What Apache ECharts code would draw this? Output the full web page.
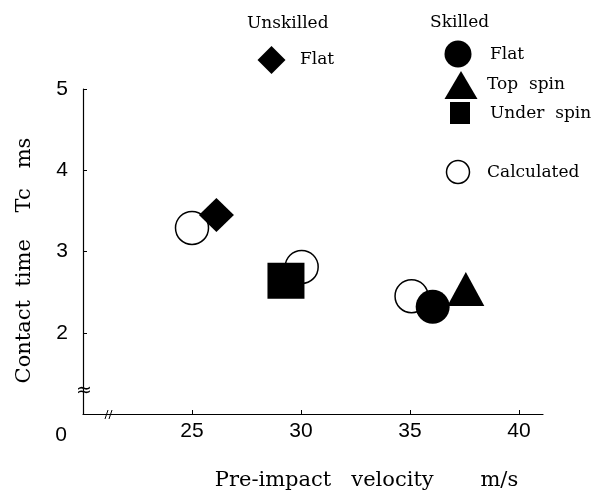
<!DOCTYPE html>
<html><head><meta charset="utf-8">
<script src="https://cdn.jsdelivr.net/npm/echarts@6/dist/echarts.min.js"></script>
<style>html,body{margin:0;padding:0;background:#fff}#c{width:599px;height:496px}</style>
</head><body><div id="c"></div>
<script>
// ---- data ----
const xTicks = [25, 30, 35, 40];
const yTicks = [2, 3, 4, 5];
const calculatedX = [25.0, 30.03, 35.07];
const calculatedY = [3.29, 2.81, 2.45];
const unskilledFlatX = [26.12];
const unskilledFlatY = [3.45];
const skilledFlatX = [36.04];
const skilledFlatY = [2.32];
const topSpinX = [37.56];
const topSpinY = [2.54];
const underSpinX = [29.31];
const underSpinY = [2.64];
const xTitle = 'Pre-impact   velocity       m/s';
const yTitle = 'Contact  time    Tc   ms';
const legendGroups = ['Unskilled', 'Skilled'];
const legendLabels = ['Flat', 'Flat', 'Top  spin', 'Under  spin', 'Calculated'];

const pairs = (xs, ys) => xs.map((x, i) => [x, ys[i]]);
const serif = 'DejaVu Serif';
const sans = 'Liberation Sans';

const chart = echarts.init(document.getElementById('c'), null, {renderer: 'canvas'});
const txt = (t, x, y, size, fam) => ({type: 'text', x: x, y: y, z: 100,
  style: {text: t, fill: '#000', font: size + 'px "' + fam + '"', verticalAlign: 'middle', align: 'left'}});

chart.setOption({
  animation: false,
  backgroundColor: '#fff',
  grid: {left: 83, right: 56, top: 89, bottom: 81, containLabel: false},
  xAxis: {
    type: 'value', min: 20, max: 41.1, interval: 5,
    splitLine: {show: false},
    axisLine: {onZero: false, lineStyle: {color: '#000', width: 1.2}},
    axisTick: {inside: true, length: 4, customValues: xTicks, lineStyle: {color: '#000'}},
    axisLabel: {customValues: xTicks, fontSize: 21, fontFamily: sans, color: '#000', margin: 7},
    name: xTitle, nameLocation: 'middle', nameGap: 56,
    nameTextStyle: {fontFamily: serif, fontSize: 21, color: '#000', padding: [0, 0, 0, 107]}
  },
  yAxis: {
    type: 'value', min: 1, max: 5, interval: 1,
    splitLine: {show: false},
    axisLine: {onZero: false, lineStyle: {color: '#000', width: 1.2}},
    axisTick: {inside: true, length: 4, customValues: yTicks, lineStyle: {color: '#000'}},
    axisLabel: {customValues: yTicks, fontSize: 21, fontFamily: sans, color: '#000', margin: 15},
    name: yTitle, nameLocation: 'middle', nameGap: 48, nameRotate: 90,
    nameTextStyle: {fontFamily: serif, fontSize: 21, color: '#000', padding: [0, 18, 0, 0]}
  },
  series: [
    {name: 'Calculated', type: 'scatter', data: pairs(calculatedX, calculatedY), symbol: 'circle', symbolSize: 33,
      itemStyle: {color: '#fff', borderColor: '#000', borderWidth: 1.5, opacity: 1}, z: 2},
    {name: 'Unskilled Flat', type: 'scatter', data: pairs(unskilledFlatX, unskilledFlatY), symbol: 'diamond', symbolSize: [35, 34],
      itemStyle: {color: '#000', opacity: 1}, z: 3},
    {name: 'Under spin', type: 'scatter', data: pairs(underSpinX, underSpinY), symbol: 'rect', symbolSize: [37, 36],
      itemStyle: {color: '#000', opacity: 1}, z: 3},
    {name: 'Skilled Flat', type: 'scatter', data: pairs(skilledFlatX, skilledFlatY), symbol: 'circle', symbolSize: 34,
      itemStyle: {color: '#000', opacity: 1}, z: 3},
    {name: 'Top spin', type: 'scatter', data: pairs(topSpinX, topSpinY), symbol: 'triangle', symbolSize: [37, 34],
      itemStyle: {color: '#000', opacity: 1}, z: 3}
  ],
  graphic: [
    // legend
    txt(legendGroups[0], 247, 24, 17, serif),
    {type: 'polygon', z: 100, shape: {points: [[271.5, 46], [285.5, 60], [271.5, 74], [257.5, 60]]}, style: {fill: '#000'}},
    txt(legendLabels[0], 300, 60, 17, serif),
    txt(legendGroups[1], 430, 23, 17, serif),
    {type: 'circle', z: 100, shape: {cx: 458, cy: 54, r: 13.5}, style: {fill: '#000'}},
    txt(legendLabels[1], 490, 55, 17, serif),
    {type: 'polygon', z: 100, shape: {points: [[461, 71], [477.5, 99], [444.5, 99]]}, style: {fill: '#000'}},
    txt(legendLabels[2], 487, 85, 17, serif),
    {type: 'rect', z: 100, shape: {x: 450, y: 102, width: 20, height: 22}, style: {fill: '#000'}},
    txt(legendLabels[3], 490, 114, 17, serif),
    {type: 'circle', z: 100, shape: {cx: 458, cy: 172, r: 11.5}, style: {fill: '#fff', stroke: '#000', lineWidth: 1.5}},
    txt(legendLabels[4], 487, 173, 17, serif),
    // origin label and axis break marks
    {type: 'text', x: 61, y: 435, z: 100, style: {text: '0', fill: '#000', font: '21px "Liberation Sans"', align: 'center', verticalAlign: 'middle'}},
    {type: 'text', x: 84, y: 391, z: 100, style: {text: '\u2248', fill: '#000', font: '19px "DejaVu Sans"', align: 'center', verticalAlign: 'middle'}},
    {type: 'line', z: 100, shape: {x1: 105, y1: 419, x2: 108, y2: 410}, style: {stroke: '#000', lineWidth: 1}},
    {type: 'line', z: 100, shape: {x1: 109, y1: 419, x2: 112, y2: 410}, style: {stroke: '#000', lineWidth: 1}}
  ]
});
</script></body></html>
